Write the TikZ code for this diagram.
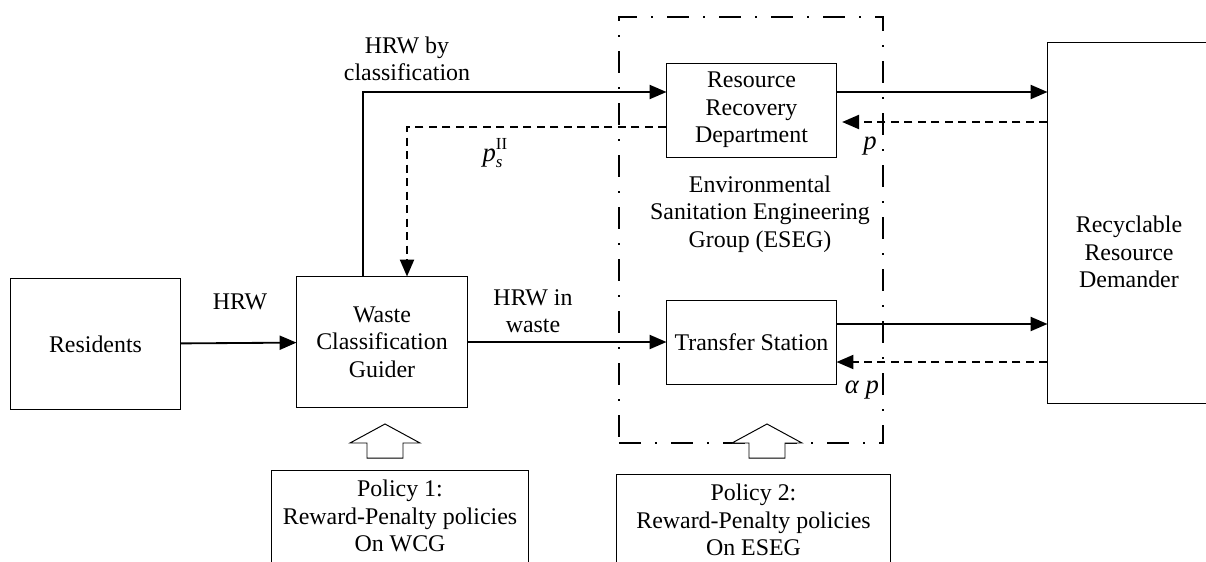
\documentclass[tikz,border=0pt]{standalone}
\usepackage{fontspec}
\setmainfont{Liberation Serif}
\usetikzlibrary{arrows.meta}

\tikzset{
  box/.style={draw, line width=0.7pt, align=center, inner sep=0pt},
  flow/.style={line width=1.3pt, -{Triangle[length=12pt,width=10pt]}},
  back/.style={flow, dash pattern=on 6pt off 3.6pt},
  group/.style={draw, line width=1.7pt, dash pattern=on 15.6pt off 10pt on 1.4pt off 10pt},
  lbl/.style={align=center, inner sep=0pt},
  price/.style={inner sep=0pt, font=\fontsize{19}{22}\selectfont\itshape},
  hollow/.style={draw, line width=0.7pt, fill=white},
}

\begin{document}
\begin{tikzpicture}[x=0.025cm,y=-0.025cm,font=\fontsize{17}{19.5}\selectfont]
\useasboundingbox (0,0) rectangle (1206,561);

% group frame
\node[group, minimum width=6.6cm, minimum height=10.65cm] (eseg) at (751,230) {};
\node[lbl] (esegtext) at (760,214) {Environmental\\Sanitation Engineering\\Group (ESEG)};

% boxes
\node[box, minimum width=4.225cm, minimum height=3.25cm] (res) at (95.5,344) {Residents};
\node[box, minimum width=4.25cm, minimum height=3.25cm] (wcg) at (382,342) {Waste\\Classification\\Guider};
\node[box, minimum width=4.225cm, minimum height=2.35cm] (rrd) at (751.5,110) {Resource\\Recovery\\Department};
\node[box, minimum width=4.225cm, minimum height=2.1cm] (ts) at (751.5,342) {Transfer Station};
\node[box, minimum width=4.05cm, minimum height=9cm] (dmd) at (1129,223) {};
\node[lbl] (dmdtext) at (1129,252) {Recyclable\\Resource\\Demander};

% policies
\node[box, minimum width=6.4cm, minimum height=2.3cm] (pol1) at (400,516) {Policy 1:\\Reward-Penalty policies\\On WCG};
\node[box, minimum width=6.825cm, minimum height=2.3cm] (pol2) at (753.5,520) {Policy 2:\\Reward-Penalty policies\\On ESEG};

\foreach \x in {385,767}
  \draw[hollow] (\x-18,458) -- (\x-18,443) -- (\x-35,443) -- (\x,424)
    -- (\x+35,443) -- (\x+18,443) -- (\x+18,458) -- cycle;

% flows
\draw[flow] (res) -- (wcg);
\draw[flow] ([xshift=-0.475cm]wcg.north) |- ([yshift=0.45cm]rrd.west);
\draw[back] ([yshift=-0.425cm]rrd.west) -| ([xshift=0.625cm]wcg.north);
\draw[flow] (wcg) -- (ts);
\draw[flow] ([yshift=0.45cm]rrd.east) -- ([yshift=0.45cm]rrd.east -| dmd.west);
\draw[back, shorten >=4pt] ([yshift=-0.3cm]rrd.east -| dmd.west) -- ([yshift=-0.3cm]rrd.east);
\draw[flow] ([yshift=0.45cm]ts.east) -- ([yshift=0.45cm]ts.east -| dmd.west);
\draw[back] ([yshift=-0.5cm]ts.east -| dmd.west) -- ([yshift=-0.5cm]ts.east);

% labels
\node[lbl] (lhrw) at (240,302) {HRW};
\node[lbl] (lbycls) at (407,59) {HRW by\\classification};
\node[lbl] (linwaste) at (533,311) {HRW in\\waste};
\node[price] (lps) at (497,153) {p\rlap{\raisebox{1.0ex}{\upshape\fontsize{12}{12}\selectfont II}}\raisebox{-0.45ex}{\fontsize{12}{12}\selectfont s}\hphantom{I}};
\node[price] (lp) at (870,146) {p};
\node[price] (lap) at (862,390) {α p};

\end{tikzpicture}
\end{document}
